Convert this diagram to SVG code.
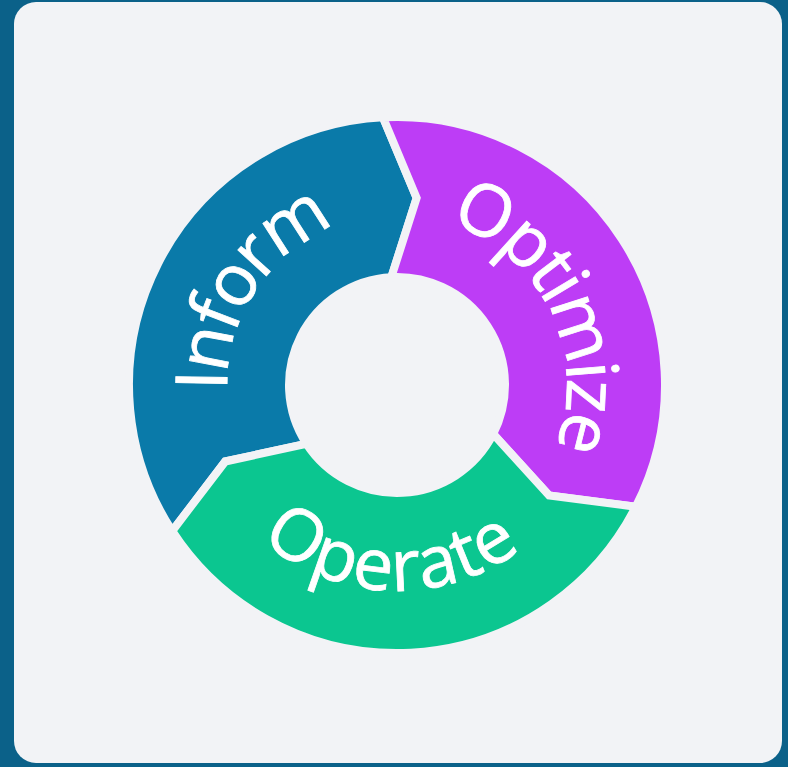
<svg xmlns="http://www.w3.org/2000/svg" width="788" height="767" viewBox="0 0 788 767">
  <style>
    .seg { stroke: #f2f3f6; stroke-width: 8; stroke-linejoin: miter; }
    .lbl { font-family: "Open Sans", "Noto Sans", "Liberation Sans", sans-serif; font-size: 72px; fill: #ffffff; stroke: #ffffff; stroke-width: 0.8px; }
    .tight { letter-spacing: -3.5px; }
    .wide { letter-spacing: 1px; }
  </style>
  <defs>
    <path id="pInform" d="M 245.53 462.18 A 170 170 0 0 1 405.90 215.23"/>
    <path id="pOptimize" d="M 408.86 215.41 A 170 170 0 0 1 537.94 480.06"/>
    <path id="pOperate" d="M 215.19 481.67 A 206 206 0 0 0 571.70 494.16"/>
  </defs>
  <rect x="0" y="0" width="788" height="767" fill="#0b6189"/>
  <rect x="14" y="2" width="768" height="761" rx="22" ry="22" fill="#f2f3f6"/>
  <g id="inform">
    <path class="seg" fill="#0a7aa9" d="M 172.24 530.96 A 268 268 0 0 1 382.97 117.37 L 416.65 198.03 L 391.35 277.15 A 108 108 0 0 0 306.42 443.82 L 225.25 461.47 Z"/>
    <text class="lbl tight"><textPath href="#pInform" startOffset="50%" text-anchor="middle">Inform</textPath></text>
  </g>
  <g id="optimize">
    <path class="seg" fill="#bd3df6" d="M 382.97 117.37 A 268 268 0 0 1 635.79 506.67 L 549.10 495.50 L 493.23 434.03 A 108 108 0 0 0 391.35 277.15 L 416.65 198.03 Z"/>
    <text class="lbl tight"><textPath href="#pOptimize" startOffset="50%" text-anchor="middle">Optimize</textPath></text>
  </g>
  <g id="operate">
    <path class="seg" fill="#0bc690" d="M 635.79 506.67 A 268 268 0 0 1 172.24 530.96 L 225.25 461.47 L 306.42 443.82 A 108 108 0 0 0 493.23 434.03 L 549.10 495.50 Z"/>
    <text class="lbl wide"><textPath href="#pOperate" startOffset="50%" text-anchor="middle">Operate</textPath></text>
  </g>
  <g id="connectors"/>
</svg>
